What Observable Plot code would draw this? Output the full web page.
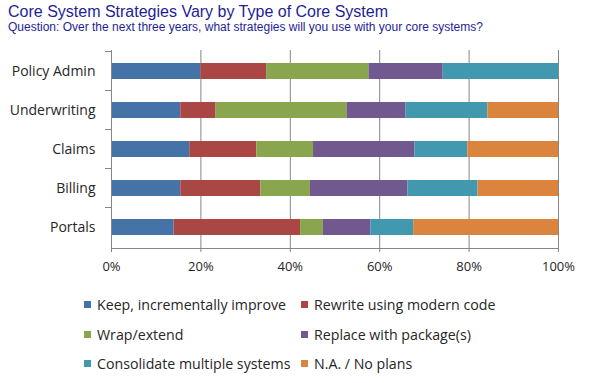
<!DOCTYPE html>
<html>
<head>
<meta charset="utf-8">
<script src="https://cdn.jsdelivr.net/npm/d3@7"></script>
<script src="https://cdn.jsdelivr.net/npm/@observablehq/plot@0.6"></script>
<style>
  html, body { margin: 0; padding: 0; background: #fff; }
  body { width: 603px; height: 383px; position: relative; overflow: hidden; }
  #title { position: absolute; left: 8px; top: 3px; font: 16px "Liberation Sans", Arial, sans-serif; color: #1e1e96; white-space: nowrap; }
  #subtitle { position: absolute; left: 8px; top: 20px; font: 12px "Liberation Sans", Arial, sans-serif; color: #1e1e96; white-space: nowrap; }
  #chart { position: absolute; left: 0; top: 40px; }
  .leg { position: absolute; display: flex; align-items: center; font: 14.2px "Open Sans", sans-serif; color: #262626; white-space: nowrap; height: 20px; }
  .leg .sw { width: 7px; height: 7px; margin-right: 6px; }
</style>
</head>
<body>
<div id="title">Core System Strategies Vary by Type of Core System</div>
<div id="subtitle">Question: Over the next three years, what strategies will you use with your core systems?</div>
<div id="chart"></div>
<div id="legend"></div>
<script>
const categories = ["Policy Admin", "Underwriting", "Claims", "Billing", "Portals"];
const seriesNames = ["Keep, incrementally improve", "Rewrite using modern code", "Wrap/extend", "Replace with package(s)", "Consolidate multiple systems", "N.A. / No plans"];
const seriesColors = ["#4572a7", "#aa4643", "#89a54e", "#71588f", "#4198af", "#db843d"];
const keep        = [20.0, 15.5, 17.5, 15.5, 14.0];
const rewrite     = [14.7,  7.9, 15.0, 17.9, 28.3];
const wrap        = [22.9, 29.3, 12.7, 11.1,  5.1];
const replace     = [16.6, 13.2, 22.7, 21.8, 10.6];
const consolidate = [25.8, 18.3, 11.8, 15.7,  9.6];
const naPlans     = [ 0.0, 15.8, 20.3, 18.0, 32.4];
const xTicks = [0, 20, 40, 60, 80, 100];

const seriesValues = [keep, rewrite, wrap, replace, consolidate, naPlans];
const data = categories.flatMap((c, i) =>
  seriesNames.map((s, j) => ({category: c, series: s, value: seriesValues[j][i]})));

const plot = Plot.plot({
  width: 603,
  height: 240,
  marginLeft: 111,
  marginRight: 45,
  marginTop: 10,
  marginBottom: 32,
  style: {fontFamily: "'Open Sans', sans-serif", fontSize: "13px", color: "#262626", background: "white"},
  x: {domain: [0, 100], label: null},
  y: {domain: categories, paddingInner: 0.6, paddingOuter: 0.3, label: null},
  color: {domain: seriesNames, range: seriesColors},
  marks: [
    Plot.ruleX(xTicks.slice(1), {stroke: "#868686", strokeWidth: 1}),
    Plot.barX(data, Plot.stackX({x: "value", y: "category", fill: "series", order: seriesNames})),
    Plot.frame({anchor: "left", stroke: "#868686"}),
    Plot.frame({anchor: "bottom", stroke: "#868686"}),
    Plot.axisX({ticks: xTicks, tickFormat: d => d + "%", tickSize: 4, tickPadding: 9, stroke: "#868686", fill: "#262626", fontSize: 13, label: null}),
    Plot.axisY({tickSize: 0, tickPadding: 16, fontSize: 14, fill: "#262626", label: null})
  ]
});
document.getElementById("chart").appendChild(plot);

// category separator ticks on the left axis, placed from the band scale
const ys = plot.scale("y");
const xs = plot.scale("x");
const x0 = xs.apply(0);
const sel = d3.select(plot);
categories.forEach(c => {
  const yb = ys.apply(c) - (ys.step - ys.bandwidth) / 2;
  sel.append("line")
    .attr("x1", x0 - 6).attr("x2", x0)
    .attr("y1", yb).attr("y2", yb)
    .attr("stroke", "#868686");
});

// legend
const legend = document.getElementById("legend");
const colLeft = [84, 301];
const rowMid = [304, 334, 363];
seriesNames.forEach((s, i) => {
  const item = document.createElement("div");
  item.className = "leg";
  item.style.left = colLeft[i % 2] + "px";
  item.style.top = (rowMid[Math.floor(i / 2)] - 10) + "px";
  const sw = document.createElement("span");
  sw.className = "sw";
  sw.style.background = seriesColors[i];
  item.appendChild(sw);
  item.appendChild(document.createTextNode(s));
  legend.appendChild(item);
});
</script>
</body>
</html>
